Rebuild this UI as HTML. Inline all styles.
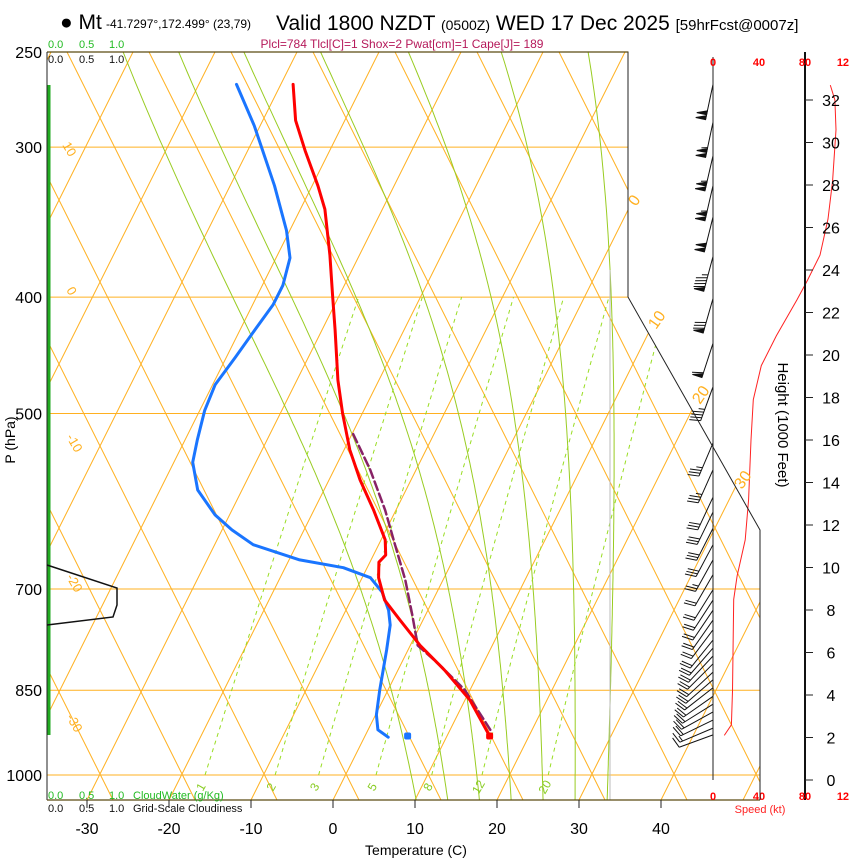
<!DOCTYPE html>
<html><head><meta charset="utf-8">
<style>
html,body{margin:0;padding:0;background:#fff;}
svg{display:block;font-family:"Liberation Sans",sans-serif;}
</style></head>
<body>
<svg id="chart" width="850" height="860" viewBox="0 0 850 860" xmlns="http://www.w3.org/2000/svg">
<defs>
<clipPath id="plotclip"><polygon points="47,52 628,52 628,297 760,530 760,800 47,800"/></clipPath>
</defs>
<g id="grid" clip-path="url(#plotclip)"></g>
<g id="series"></g>
<g id="frame">
<polyline points="47,52 628,52 628,297 760,530 760,800" fill="none" stroke="#222" stroke-width="1"/>
<line x1="47" y1="52" x2="628" y2="52" stroke="#5a4a10" stroke-width="1.2"/>
<line x1="47" y1="52" x2="47" y2="800" stroke="#222" stroke-width="1"/>
<line x1="47" y1="800" x2="760" y2="800" stroke="#5a4a10" stroke-width="1.2"/>
<line x1="713" y1="57" x2="713" y2="780" stroke="#222" stroke-width="1"/>
<line x1="805" y1="52" x2="805" y2="800" stroke="#111" stroke-width="2"/>
<line x1="49" y1="85" x2="49" y2="735" stroke="#22aa22" stroke-width="3"/>
<polyline points="47,565 117,588 117,605 113,617 47,625" fill="none" stroke="#111" stroke-width="1.5"/>
</g>
<g id="labels">
<text x="60" y="29" font-size="21">● Mt</text>
<text x="106" y="28" font-size="12">-41.7297°,172.499° (23,79)</text>
<text x="276" y="30" font-size="21">Valid 1800 NZDT <tspan font-size="14">(0500Z)</tspan> WED 17 Dec 2025 <tspan font-size="15">[59hrFcst@0007z]</tspan></text>
<text x="402" y="48" font-size="12" fill="#b5195a" text-anchor="middle">Plcl=784 Tlcl[C]=1 Shox=2 Pwat[cm]=1 Cape[J]= 189</text>
<text y="48" font-size="11" fill="#22bb22"><tspan x="48">0.0</tspan><tspan x="79">0.5</tspan><tspan x="109">1.0</tspan></text>
<text y="63" font-size="11" fill="#111"><tspan x="48">0.0</tspan><tspan x="79">0.5</tspan><tspan x="109">1.0</tspan></text>
<text y="799" font-size="11" fill="#22bb22"><tspan x="48">0.0</tspan><tspan x="79">0.5</tspan><tspan x="109">1.0</tspan><tspan x="133">CloudWater (g/Kg)</tspan></text>
<text y="812" font-size="11" fill="#111"><tspan x="48">0.0</tspan><tspan x="79">0.5</tspan><tspan x="109">1.0</tspan><tspan x="133">Grid-Scale Cloudiness</tspan></text>
<text x="416" y="855" font-size="14" text-anchor="middle">Temperature (C)</text>
<text x="15" y="440" font-size="14" text-anchor="middle" transform="rotate(-90 15 440)">P (hPa)</text>
<text x="778" y="425" font-size="15" text-anchor="middle" transform="rotate(90 778 425)">Height (1000 Feet)</text>
<text x="760" y="813" font-size="11" fill="#ff2222" text-anchor="middle">Speed (kt)</text>
</g>
<g id="axes"></g>
</svg>
<script>
// ---- data ----
const tempP = [928,866,818,780,743,715,685,665,656,637,602,568,536,500,469,426,400,369,338,323,302,285,266];
const tempT = [15.2,10.6,5.7,1.2,-2.8,-5.9,-8.0,-8.9,-8.5,-9.5,-12.7,-16.2,-19.3,-22.4,-25.0,-28.4,-30.7,-33.6,-37.0,-39.3,-43.0,-46.0,-48.5];
const dewP = [930,917,891,850,787,750,729,704,685,672,662,643,625,607,579,549,526,497,473,449,426,406,391,371,352,323,288,266];
const dewT = [2.9,1.2,0.1,-1.0,-2.6,-3.7,-4.8,-6.7,-9.0,-12.9,-18.7,-25.3,-28.8,-31.8,-35.4,-37.7,-38.5,-39.4,-39.7,-38.9,-38.2,-37.5,-37.5,-38.3,-40.4,-44.6,-50.7,-55.4];
const parcelP = [917,850,810,780,736,688,643,602,557,518];
const parcelT = [14.9,9.4,4.8,0.9,-1.6,-4.6,-8.0,-11.3,-15.6,-20.1];
const sfcTempP = 928, sfcTempT = 15.2;
const sfcDewP = 928, sfcDewT = 5.2;
const barbP = [266,286,305,323,343,370,401,437,475,529,557,587,604,623,643,662,681,701,715,729,743,757,772,784,796,808,821,833,846,860,873,886,900,914,926];
const barbDir = [192,192,193,193,194,195,196,198,200,203,204,205,206,207,208,209,210,212,213,214,215,217,219,221,223,225,227,229,232,235,238,241,244,247,250];
const barbSpd = [100,105,105,105,100,95,80,60,45,35,33,32,30,30,28,25,22,20,20,20,20,20,18,18,18,18,18,18,18,18,18,18,18,15,10];
const spdHeight = [2.1,2.6,4.2,8.5,9.6,11.3,13.2,16.0,17.9,19.5,20.9,22.6,23.5,24.7,26.4,28.2,30.6,32.0,32.7];
const spdKt = [9.8,16,17,18,21,28,31,33,35,42,55,73,82,93,100,104,107,106,102];
const tempTicks = [-30,-20,-10,0,10,20,30,40];
const pressTicks = [250,300,400,500,700,850,1000];
const heightTicks = [0,2,4,6,8,10,12,14,16,18,20,22,24,26,28,30,32];
const speedTicks = ["0","40","80","12"];
const speedTickVals = [0,40,80,113];
const mixRatios = [1,2,3,5,8,12,20];
const moistThetas = [8,12,16,20,24,28,32];
const dryLabels = ["10","0","-10","-20","-30"];
const dryLabelsR = ["0","10","20","30"];

// ---- scales ----
const NS='http://www.w3.org/2000/svg';
function yP(p){return 775+521.5*Math.log(p/1000);}
function xT(T,y){return 333+8.2*T+0.5*(800-y);}
function yH(h){return 780-21.25*h;}
function xS(s){return 713+s*1.15;}
function el(tag,attrs,parent){const e=document.createElementNS(NS,tag);for(const k in attrs)e.setAttribute(k,attrs[k]);parent.appendChild(e);return e;}
const grid=document.getElementById('grid'), series=document.getElementById('series'), axes=document.getElementById('axes');
const ORANGE='#ffb020';

pressTicks.forEach(p=>{const y=yP(p);
 const l=el('line',{x1:47,y1:y,x2:760,y2:y,stroke:ORANGE,'stroke-width':1},grid);
 
 
 const t=el('text',{x:42,y:y+6,'font-size':16,'text-anchor':'end'},axes);t.textContent=p;
 
 
});
for(let k=-20;k<=12;k++){
 const x0=333+82*k;
 const a=el('line',{x1:x0,y1:800,x2:x0+0.5*748,y2:52,stroke:ORANGE,'stroke-width':1},grid);
 
 
 const x1=359+82*k;
 const b=el('line',{x1:x1,y1:800,x2:x1-0.5*748,y2:52,stroke:ORANGE,'stroke-width':1},grid);
 
 
}
function dTdp(p,T){const Tc=T-273.15;const es=6.112*Math.exp(17.67*Tc/(Tc+243.5));const rs=0.622*es/(p-es);
 return (287*T+2.5e6*rs)/(p*(1005+2.5e6*2.5e6*rs*0.622/(287*T*T)));}
moistThetas.forEach(th=>{
 let T=th+273.15,p=1000;
 while(p<1050){T+=dTdp(p,T)*2;p+=2;}
 const pts=[];
 while(p>=240){const y=yP(p);pts.push(xT(T-273.15,y).toFixed(1)+','+y.toFixed(1));T-=dTdp(p,T)*5;p-=5;}
 const l=el('polyline',{points:pts.join(' '),fill:'none',stroke:'#99cc22','stroke-width':1},grid);
 
 
});
mixRatios.forEach(w=>{
 const pts=[];
 for(let p=1000;p>=400;p-=10){const e=w*p/(622+w);const L=Math.log(e/6.112);const Td=243.5*L/(17.67-L);const y=yP(p);pts.push(xT(Td,y).toFixed(1)+','+y.toFixed(1));}
 const l=el('polyline',{points:pts.join(' '),fill:'none',stroke:'#99dd22','stroke-width':1,'stroke-dasharray':'4,4'},grid);
 
 
 const e=w*1020/(622+w);const L=Math.log(e/6.112);const Td=243.5*L/(17.67-L);
 const tx=xT(Td,787);
 const t=el('text',{x:tx,y:791,'font-size':12,fill:'#88cc22','text-anchor':'middle',transform:'rotate(-60 '+tx+' 787)'},grid);t.textContent=w;
 
 
});
const gl=el('line',{x1:610,y1:270,x2:610,y2:800,stroke:'#bbb','stroke-width':1},grid);


const lpos=[[62,145],[66,290],[66,437],[66,577],[66,717]];
dryLabels.forEach((s,i)=>{const t=el('text',{x:lpos[i][0],y:lpos[i][1],'font-size':13,fill:ORANGE,transform:'rotate(60 '+lpos[i][0]+' '+lpos[i][1]+')'},axes);t.textContent=s;
 
 });
const rpos=[[636,207],[656,330],[700,405],[742,490]];
dryLabelsR.forEach((s,i)=>{const t=el('text',{x:rpos[i][0],y:rpos[i][1],'font-size':16,fill:ORANGE,transform:'rotate(-55 '+rpos[i][0]+' '+rpos[i][1]+')'},axes);t.textContent=s;
 
 });
tempTicks.forEach(T=>{const x=333+8.2*T;
 const l=el('line',{x1:x,y1:800,x2:x,y2:808,stroke:'#222'},axes);
 
 
 const t=el('text',{x:x,y:834,'font-size':16,'text-anchor':'middle'},axes);t.textContent=T;
 
 });
heightTicks.forEach(h=>{const y=yH(h);
 const l=el('line',{x1:805,y1:y,x2:813,y2:y,stroke:'#222'},axes);
 
 
 const t=el('text',{x:831,y:y+6,'font-size':16,'text-anchor':'middle'},axes);t.textContent=h;
 
 });
speedTickVals.forEach((s,i)=>{[66,800].forEach(y=>{
 const t=el('text',{x:xS(s),y:y,'font-size':11,fill:'#ff0000','font-weight':'bold','text-anchor':'middle'},axes);t.textContent=speedTicks[i];
 
 });});
const sb=el('line',{x1:760,y1:530,x2:760,y2:800,stroke:'#222'},axes);


function line(P,T,attrs){const pts=P.map((p,i)=>{const y=yP(p);return xT(T[i],y).toFixed(1)+','+y.toFixed(1);}).join(' ');
 return el('polyline',Object.assign({points:pts,fill:'none','stroke-linejoin':'round','stroke-linecap':'round'},attrs),series);}
const dl=line(dewP,dewT,{stroke:'#1a75ff','stroke-width':3});


const pl=line(parcelP,parcelT,{stroke:'#882266','stroke-width':2.5,'stroke-dasharray':'9,4'});


const tl=line(tempP,tempT,{stroke:'#ff0000','stroke-width':3});


{const y=yP(sfcDewP);const c=el('rect',{x:xT(sfcDewT,y)-3.5,y:y-3.5,width:7,height:7,rx:2,fill:'#1a75ff'},series);
 
 }
{const y=yP(sfcTempP);const c=el('rect',{x:xT(sfcTempT,y)-3.5,y:y-3.5,width:7,height:7,rx:2,fill:'#ff0000'},series);
 
 }
{const pts=spdHeight.map((h,i)=>xS(spdKt[i]).toFixed(1)+','+yH(h).toFixed(1)).join(' ');
 const l=el('polyline',{points:pts,fill:'none',stroke:'#ff2222','stroke-width':1},series);
 
 }
barbP.forEach((p,i)=>{
 const y0=yP(p),x0=713,d=barbDir[i]*Math.PI/180,L=36;
 const ux=Math.sin(d),uy=-Math.cos(d);
 const ex=x0+ux*L,ey=y0+uy*L;
 const bx=-Math.abs(uy), by=(uy>0?-Math.abs(ux):Math.abs(ux));
 const g=el('g',{stroke:'#111','stroke-width':1,fill:'#111'},series);
 
 
 el('line',{x1:x0,y1:y0,x2:ex,y2:ey},g);
 let s=Math.round(barbSpd[i]/5)*5,pos=0;
 while(s>=50){const ax=ex-ux*pos,ay=ey-uy*pos;const cx=ex-ux*(pos+4),cy=ey-uy*(pos+4);
  el('polygon',{points:ax+','+ay+' '+(ax+bx*10)+','+(ay+by*10)+' '+cx+','+cy},g);pos+=5;s-=50;}
 while(s>=10){const ax=ex-ux*pos,ay=ey-uy*pos;el('line',{x1:ax,y1:ay,x2:ax+bx*11+ux*3,y2:ay+by*11+uy*3},g);pos+=3;s-=10;}
 if(s>=5){const ax=ex-ux*pos,ay=ey-uy*pos;el('line',{x1:ax,y1:ay,x2:ax+bx*6+ux*1.5,y2:ay+by*6+uy*1.5},g);}
});
</script>
</body></html>
